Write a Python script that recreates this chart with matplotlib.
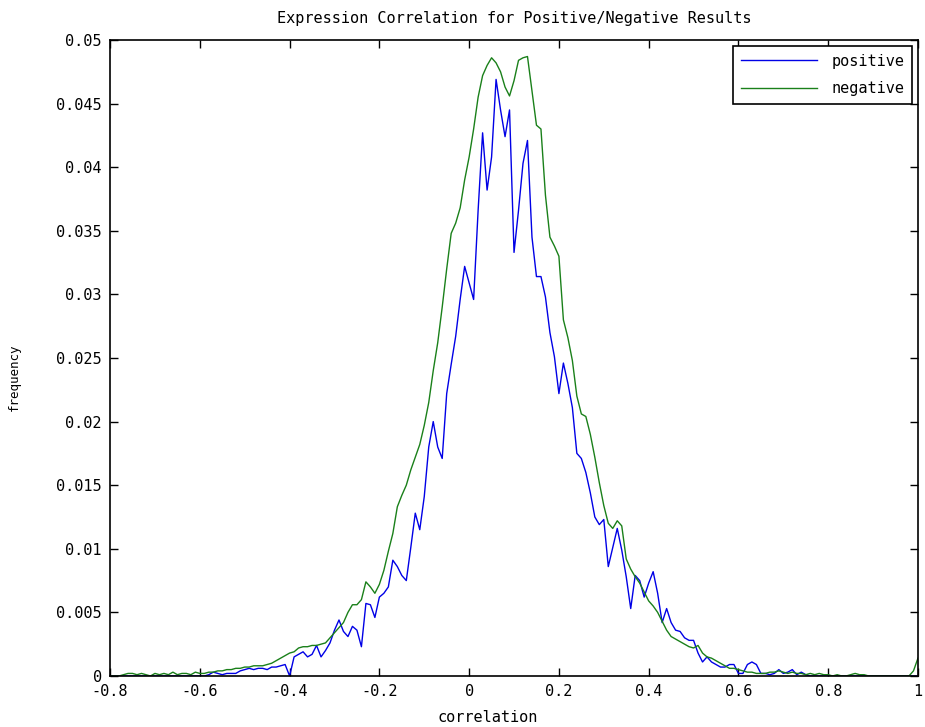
import numpy as np
import matplotlib
matplotlib.use("Agg")
import matplotlib.pyplot as plt

# histogram bins, 0.01 wide, from -0.8 to 1.0
bin_lo, bin_w = -0.8, 0.01

positive = [
    0, 0, 0, 0, 0, 0, 0, 0, 0, 0,
    0, 0, 0, 0, 0, 0, 0, 0, 0, 0,
    0, 0, 0.0001,
    0.0003, 0.0002, 0.0001, 0.0002, 0.0002, 0.0002, 0.0004, 0.0005, 0.0006, 0.0005,
    0.0006, 0.0006, 0.0005, 0.0007, 0.0007, 0.0008, 0.0009, 0.0000, 0.0015, 0.0017,
    0.0019, 0.0015, 0.0017, 0.0024, 0.0015, 0.0020, 0.0026, 0.0036, 0.0044, 0.0035,
    0.0031, 0.0039, 0.0036, 0.0023, 0.0057, 0.0056, 0.0046, 0.0062, 0.0065, 0.0070,
    0.0091, 0.0086, 0.0079, 0.0075, 0.0101, 0.0128, 0.0115, 0.0141, 0.0180, 0.0200,
    0.0180, 0.0171, 0.0222, 0.0245, 0.0267, 0.0296, 0.0322,
    0.0309, 0.0296, 0.0366, 0.0427, 0.0382, 0.0408, 0.0469, 0.0445, 0.0424, 0.0445,
    0.0333, 0.0366, 0.0403, 0.0421, 0.0345, 0.0314, 0.0314, 0.0298, 0.0270, 0.0251,
    0.0222, 0.0246, 0.0230, 0.0211, 0.0175, 0.0171, 0.0160, 0.0144, 0.0125, 0.0119,
    0.0123, 0.0086, 0.0101, 0.0116, 0.0099, 0.0078, 0.0053, 0.0079, 0.0075, 0.0062,
    0.0073, 0.0082, 0.0065, 0.0042, 0.0053, 0.0042, 0.0036, 0.0035, 0.0030, 0.0028,
    0.0028, 0.0018, 0.0011, 0.0015, 0.0011, 0.0009, 0.0007, 0.0007, 0.0009, 0.0009,
    0.0002, 0.0002, 0.0009, 0.0011, 0.0009, 0.0002, 0.0002, 0.0001, 0.0002, 0.0005,
    0.0002, 0.0003, 0.0005, 0.0001, 0.0003, 0.0001, 0, 0, 0, 0,
    0, 0, 0, 0, 0, 0, 0, 0, 0, 0,
    0, 0, 0, 0, 0, 0, 0, 0, 0, 0,
    0,
]

negative = [
    0.0000, 0.0000, 0.0000, 0.0001, 0.0002, 0.0002, 0.0001, 0.0002, 0.0001, 0.0000,
    0.0002, 0.0001, 0.0002, 0.0001, 0.0003, 0.0001, 0.0002, 0.0002, 0.0001, 0.0003,
    0.0002, 0.0002, 0.0003,
    0.0003, 0.0004, 0.0004, 0.0005, 0.0005, 0.0006, 0.0006, 0.0007, 0.0007, 0.0008,
    0.0008, 0.0008, 0.0009, 0.0010, 0.0012, 0.0014, 0.0016, 0.0018, 0.0019, 0.0022,
    0.0023, 0.0023, 0.0024, 0.0024, 0.0025, 0.0026, 0.0030, 0.0034, 0.0038, 0.0042,
    0.0050, 0.0056, 0.0056, 0.0060, 0.0074, 0.0070, 0.0065, 0.0072, 0.0083, 0.0098,
    0.0112, 0.0133, 0.0142, 0.0150, 0.0162, 0.0172, 0.0182, 0.0197, 0.0215, 0.0240,
    0.0262, 0.0290, 0.0320, 0.0348, 0.0356, 0.0368, 0.0390,
    0.0408, 0.0430, 0.0455, 0.0472, 0.0480, 0.0486, 0.0482, 0.0475, 0.0463, 0.0456,
    0.0468, 0.0484, 0.0486, 0.0487, 0.0460, 0.0433, 0.0430, 0.0378, 0.0345, 0.0338,
    0.0330, 0.0280, 0.0266, 0.0248, 0.0220, 0.0206, 0.0204, 0.0190, 0.0172, 0.0152,
    0.0134, 0.0120, 0.0116, 0.0122, 0.0118, 0.0092, 0.0084, 0.0078, 0.0073, 0.0066,
    0.0059, 0.0055, 0.0050, 0.0043, 0.0036, 0.0031, 0.0029, 0.0027, 0.0025, 0.0023,
    0.0022, 0.0024, 0.0018, 0.0015, 0.0014, 0.0012, 0.0010, 0.0008, 0.0006, 0.0006,
    0.0005, 0.0004, 0.0003, 0.0003, 0.0002, 0.0002, 0.0002, 0.0003, 0.0003, 0.0004,
    0.0003, 0.0002, 0.0003, 0.0002, 0.0002, 0.0001, 0.0002, 0.0001, 0.0002, 0.0001,
    0.0001, 0.0000, 0.0001, 0.0000, 0.0000, 0.0001, 0.0002, 0.0001, 0.0001, 0.0000,
    0.0000, 0.0000, 0.0000, 0.0000, 0.0000, 0.0000, 0.0000, 0.0000, 0.0000, 0.0004,
    0.0014,
]

xticks = [-0.8, -0.6, -0.4, -0.2, 0, 0.2, 0.4, 0.6, 0.8, 1]
xtick_labels = ["-0.8", "-0.6", "-0.4", "-0.2", "0", "0.2", "0.4", "0.6", "0.8", "1"]
yticks = [0, 0.005, 0.01, 0.015, 0.02, 0.025, 0.03, 0.035, 0.04, 0.045, 0.05]
ytick_labels = ["0", "0.005", "0.01", "0.015", "0.02", "0.025", "0.03",
                "0.035", "0.04", "0.045", "0.05"]

# old matlab screen font is widely spaced, a mono face gets close
plt.rcParams['font.family'] = ['DejaVu Sans Mono', 'DejaVu Sans']

x = bin_lo + bin_w * np.arange(len(positive))

fig = plt.figure(figsize=(9.25, 7.27), dpi=100)
ax = fig.add_axes([0.119, 0.0702, 0.8734, 0.8748])

ax.plot(x, positive, color=(0, 0, 0.9), lw=1.0, label="positive")
ax.plot(x, negative, color=(0.1, 0.5, 0.1), lw=1.0, label="negative")

ax.set_xlim(-0.8, 1)
ax.set_ylim(0, 0.05)
ax.set_xticks(xticks)
ax.set_xticklabels(xtick_labels)
ax.set_yticks(yticks)
ax.set_yticklabels(ytick_labels)
ax.tick_params(direction="in", top=True, right=True, length=6, width=1,
               labelsize=11, pad=6)
for s in ax.spines.values():
    s.set_linewidth(1.2)

ax.set_title("Expression Correlation for Positive/Negative Results", fontsize=11, pad=12)
ax.set_xlabel("correlation", fontsize=11)
ax.xaxis.set_label_coords(0.468, -0.053)
ax.set_ylabel("frequency", fontsize=9)
ax.yaxis.set_label_coords(-0.111, 0.47)

leg = ax.legend(loc="upper right", fontsize=11, fancybox=False, framealpha=1,
                edgecolor="black", handlelength=5, handletextpad=0.9,
                borderaxespad=0.4, borderpad=0.5, labelspacing=0.8)
leg.get_frame().set_linewidth(1.2)

fig.savefig("out.png", dpi=100)
